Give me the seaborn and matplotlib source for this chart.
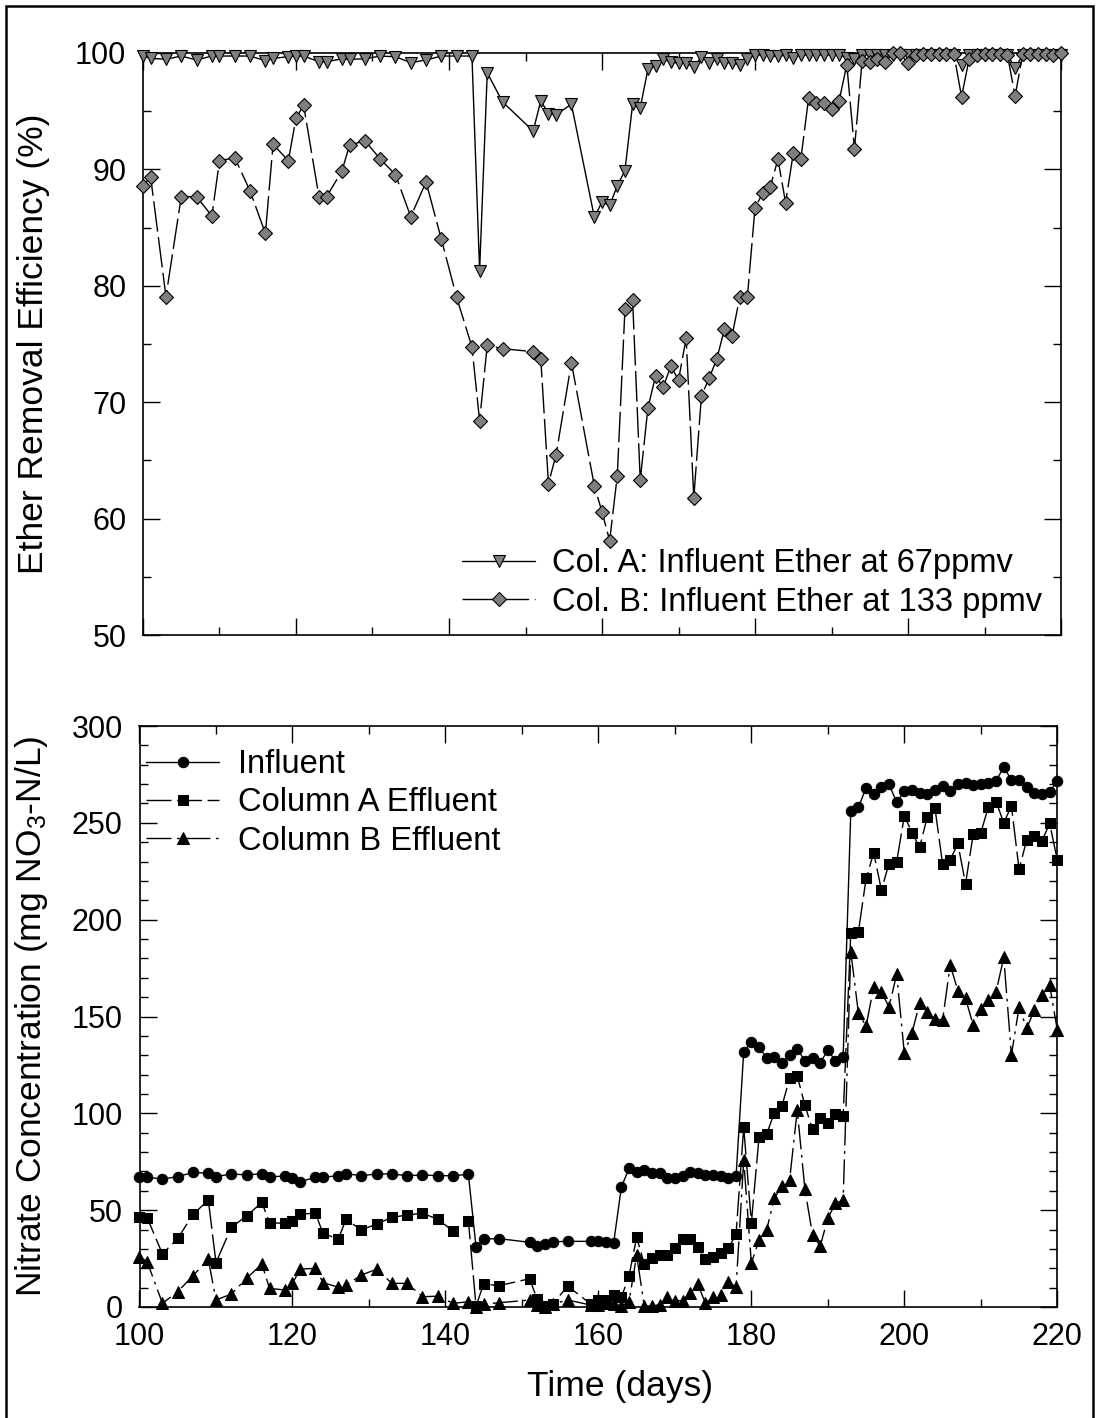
import numpy as np
import pandas as pd
import matplotlib
matplotlib.use("Agg")
import matplotlib.pyplot as plt
from matplotlib.ticker import MultipleLocator
from matplotlib.patches import Rectangle
import seaborn as sns

# ---------------- data ----------------
days = [100, 101, 103, 105, 107, 109, 110, 112, 114, 116, 117, 119, 120, 121, 123, 124,
        126, 127, 129, 131, 133, 135, 137, 139, 141, 143, 144, 145, 147, 151, 152, 153,
        154, 156, 159, 160, 161, 162, 163, 164, 165, 166, 167, 168, 169, 170, 171, 172,
        173, 174, 175, 176, 177, 178, 179, 180, 181, 182, 183, 184, 185, 186, 187, 188,
        189, 190, 191, 192, 193, 194, 195, 196, 197, 198, 199, 200, 201, 202, 203, 204,
        205, 206, 207, 208, 209, 210, 211, 212, 213, 214, 215, 216, 217, 218, 219, 220]

col_a_removal = [99.74, 99.54, 99.46, 99.74, 99.4, 99.74, 99.74, 99.74, 99.74, 99.34, 99.54, 99.68,
                 99.74, 99.74, 99.25, 99.25, 99.5, 99.46, 99.5, 99.74, 99.68, 99.17, 99.4, 99.74,
                 99.74, 99.74, 81.3, 98.3, 95.8, 93.3, 95.9, 94.8, 94.7, 95.6, 85.9, 87.2,
                 86.9, 88.6, 89.9, 95.6, 95.3, 98.6, 98.9, 99.46, 99.25, 99.1, 99.17, 98.8,
                 99.68, 99.17, 99.46, 99.17, 99.17, 98.97, 99.46, 99.83, 99.83, 99.75, 99.7, 99.83,
                 99.6, 99.83, 99.83, 99.83, 99.83, 99.83, 99.83, 99.6, 99.5, 99.85, 99.85, 99.85,
                 99.85, 99.85, 99.85, 99.85, 99.85, 99.85, 99.85, 99.85, 99.85, 99.85, 99.0, 99.85,
                 99.85, 99.85, 99.85, 99.85, 99.85, 98.7, 99.85, 99.85, 99.85, 99.85, 99.85, 99.85]

col_b_removal = [88.6, 89.35, 79.07, 87.66, 87.66, 86.0, 90.75, 91.0, 88.14, 84.5, 92.15, 90.75,
                 94.4, 95.5, 87.66, 87.66, 89.86, 92.07, 92.47, 90.9, 89.55, 85.94, 88.92, 84.0,
                 79.0, 74.75, 68.4, 74.9, 74.6, 74.34, 73.7, 63.0, 65.5, 73.4, 62.8, 60.6,
                 58.1, 63.7, 78.0, 78.8, 63.3, 69.5, 72.25, 71.3, 73.1, 71.9, 75.5, 61.8,
                 70.56, 72.05, 73.7, 76.26, 75.7, 79.0, 79.0, 86.7, 87.95, 88.5, 90.87, 87.14,
                 91.38, 90.92, 96.1, 95.73, 95.73, 95.16, 95.9, 99.0, 91.75, 99.34, 99.25, 99.46,
                 99.2, 99.97, 99.97, 99.1, 99.83, 99.9, 99.9, 99.9, 99.9, 99.9, 96.25, 99.5,
                 99.83, 99.9, 99.9, 99.9, 99.83, 96.3, 99.9, 99.9, 99.9, 99.9, 99.83, 99.97]

influent = [67.3, 67.0, 66.1, 67.3, 69.5, 69.0, 67.3, 68.7, 68.2, 68.8, 67.1, 67.7,
            66.4, 64.7, 67.0, 67.0, 67.8, 68.8, 67.8, 68.7, 68.7, 67.8, 68.2, 67.8,
            67.8, 68.5, 31.1, 35.1, 35.3, 33.4, 31.5, 32.7, 33.7, 33.9, 33.9, 34.2,
            33.7, 33.2, 61.8, 71.6, 69.9, 70.7, 69.3, 69.3, 66.8, 66.8, 67.6, 69.9,
            69.3, 68.1, 68.1, 67.6, 66.4, 67.6, 131.8, 137.0, 134.4, 128.4, 128.9, 125.8,
            130.1, 133.4, 127.0, 128.4, 126.1, 132.7, 127.0, 129.2, 256.0, 258.0, 268.1, 264.7,
            268.3, 269.9, 260.6, 266.4, 267.0, 265.5, 265.0, 267.0, 269.0, 266.6, 270.0, 270.7,
            269.5, 269.9, 270.4, 271.6, 278.9, 272.0, 272.0, 268.3, 265.5, 264.7, 266.0, 271.6]

col_a_effluent = [46.6, 46.1, 27.4, 35.4, 47.8, 55.2, 22.9, 41.1, 47.0, 54.0, 43.5, 43.2,
                  44.6, 48.0, 48.4, 38.0, 35.1, 45.3, 39.8, 42.8, 46.3, 47.5, 48.4, 45.3,
                  39.2, 44.6, 0.5, 11.9, 11.0, 14.6, 4.0, 0.3, 1.5, 10.8, 1.5, 3.6,
                  3.6, 6.2, 5.0, 16.0, 36.0, 22.2, 25.1, 26.8, 26.8, 30.3, 35.1, 35.1,
                  31.1, 24.6, 25.6, 27.7, 30.3, 37.7, 92.8, 43.5, 87.6, 89.3, 100.3, 103.8,
                  118.1, 119.3, 104.1, 91.7, 97.4, 95.2, 99.6, 98.6, 193.2, 193.8, 221.3, 234.5,
                  215.3, 229.0, 229.9, 253.6, 245.0, 237.3, 253.1, 257.8, 228.7, 230.8, 239.4, 218.4,
                  244.0, 244.9, 258.3, 260.9, 250.0, 258.7, 226.0, 241.1, 243.2, 240.7, 249.7, 230.8]

col_b_effluent = [26.0, 23.4, 1.9, 7.9, 16.2, 24.6, 3.6, 6.7, 14.8, 22.2, 9.6, 8.8,
                  12.2, 19.5, 20.0, 12.6, 10.2, 11.3, 16.5, 19.5, 12.2, 12.2, 5.3, 5.6,
                  1.9, 2.7, 0.2, 1.5, 2.2, 3.6, 1.0, 0.2, 1.5, 3.6, 1.0, 1.0,
                  1.9, 1.5, 0.5, 2.7, 26.8, 0.5, 0.5, 1.2, 5.3, 3.3, 3.3, 7.1,
                  11.7, 1.9, 5.3, 6.2, 13.1, 10.2, 75.9, 22.6, 34.6, 39.8, 56.1, 62.5,
                  65.6, 101.7, 60.8, 37.2, 31.5, 45.8, 53.5, 55.2, 183.4, 151.6, 145.1, 165.4,
                  162.5, 155.0, 171.8, 131.0, 141.6, 156.8, 152.5, 148.7, 148.2, 176.6, 163.3, 159.4,
                  145.6, 153.7, 158.5, 162.8, 180.5, 130.1, 154.7, 143.9, 153.3, 161.1, 166.2, 143.0]

top_labels = ["Col. A: Influent Ether at 67ppmv", "Col. B: Influent Ether at 133 ppmv"]
bottom_labels = ["Influent", "Column A Effluent", "Column B Effluent"]

# ---------------- style ----------------
sns.set_style("ticks")
plt.rcParams["font.family"] = ["Liberation Sans", "DejaVu Sans"]
plt.rcParams["mathtext.fontset"] = "custom"
plt.rcParams["mathtext.rm"] = "Liberation Sans"
plt.rcParams["mathtext.it"] = "Liberation Sans:italic"
for k in ("text.color", "axes.labelcolor", "xtick.color", "ytick.color", "axes.edgecolor"):
    plt.rcParams[k] = "black"

TICK_FS = 22
LABEL_FS = 25.5
LEG_FS = 23.5

W, H = 1097, 1418
fig = plt.figure(figsize=(W / 100, H / 100), dpi=100)

ax1 = fig.add_axes([143 / W, 1 - 635 / H, (1061 - 143) / W, (635 - 53) / H])
ax2 = fig.add_axes([139.5 / W, 1 - 1307 / H, (1057.3 - 139.5) / W, (1307 - 726) / H])

df_top = pd.DataFrame({"day": days, "a": col_a_removal, "b": col_b_removal})
df_bot = pd.DataFrame({"day": days, "inf": influent, "a": col_a_effluent, "b": col_b_effluent})

GRAY = "#7f7f7f"

sns.lineplot(data=df_top, x="day", y="a", ax=ax1, sort=False, estimator=None,
             color="black", lw=1.0, marker="v", markersize=8.5,
             markerfacecolor=GRAY, markeredgecolor="black", markeredgewidth=0.8,
             clip_on=False, label=top_labels[0], zorder=3)
sns.lineplot(data=df_top, x="day", y="b", ax=ax1, sort=False, estimator=None,
             color="black", lw=1.0, linestyle=(0, (22, 4)), marker="D", markersize=7.5,
             markerfacecolor=GRAY, markeredgecolor="black", markeredgewidth=0.8,
             clip_on=False, label=top_labels[1], zorder=4)

sns.lineplot(data=df_bot, x="day", y="inf", ax=ax2, sort=False, estimator=None,
             color="black", lw=1.0, marker="o", markersize=7.5,
             markerfacecolor="black", markeredgecolor="black",
             clip_on=False, label=bottom_labels[0], zorder=3)
sns.lineplot(data=df_bot, x="day", y="a", ax=ax2, sort=False, estimator=None,
             color="black", lw=1.0, linestyle=(0, (18, 4)), marker="s", markersize=7,
             markerfacecolor="black", markeredgecolor="black",
             clip_on=False, label=bottom_labels[1], zorder=4)
sns.lineplot(data=df_bot, x="day", y="b", ax=ax2, sort=False, estimator=None,
             color="black", lw=1.0, linestyle=(0, (18, 4, 2, 4)), marker="^", markersize=8,
             markerfacecolor="black", markeredgecolor="black",
             clip_on=False, label=bottom_labels[2], zorder=5)

for ax in (ax1, ax2):
    ax.set_xlim(100, 220)
    ax.xaxis.set_major_locator(MultipleLocator(20))
    ax.xaxis.set_minor_locator(MultipleLocator(10))
    ax.tick_params(which="both", direction="in", top=True, right=True,
                   labelsize=TICK_FS, width=1.0, color="black", labelcolor="black")
    ax.tick_params(which="major", length=12)
    ax.tick_params(axis="y", which="major", pad=12)
    ax.tick_params(axis="x", which="major", pad=11)
    ax.tick_params(which="minor", length=6)
    for s in ax.spines.values():
        s.set_linewidth(1.2)
        s.set_color("black")
        s.set_visible(True)

ax1.set_ylim(50, 100)
ax1.yaxis.set_major_locator(MultipleLocator(10))
ax1.yaxis.set_minor_locator(MultipleLocator(5))
ax1.tick_params(axis="x", labelbottom=False)
ax1.set_xlabel("")
ax1.set_ylabel("Ether Removal Efficiency (%)", fontsize=LABEL_FS)
ax1.yaxis.set_label_coords((50 - 143) / 918, 0.5)

ax2.set_ylim(0, 300)
ax2.yaxis.set_major_locator(MultipleLocator(50))
ax2.yaxis.set_minor_locator(MultipleLocator(10))
ax2.set_xlabel("Time (days)", fontsize=LABEL_FS)
ax2.xaxis.set_label_coords((620 - 139.5) / 918, (1307 - 1370) / 581)
ax2.set_ylabel(r"Nitrate Concentration (mg NO$_3$-N/L)", fontsize=LABEL_FS)
ax2.yaxis.set_label_coords((50 - 139.5) / 918, 0.5)

ax1.legend(loc="lower left", bbox_to_anchor=((462 - 143) / 918, 0.03), frameon=False,
           fontsize=LEG_FS, handlelength=2.25, handletextpad=0.52, labelspacing=0.22,
           borderpad=0, borderaxespad=0, numpoints=1)
ax2.legend(loc="upper left", bbox_to_anchor=((146 - 139.5) / 918, 0.96), frameon=False,
           fontsize=LEG_FS, handlelength=2.25, handletextpad=0.57, labelspacing=0.22,
           borderpad=0, borderaxespad=0, numpoints=1)

# outer frame
fig.patches.append(Rectangle((6 / W, -0.05), (1093 - 6) / W, 1.05 - 6 / H,
                             transform=fig.transFigure, fill=False,
                             edgecolor="black", linewidth=1.8))

fig.savefig("out.png", dpi=100)
